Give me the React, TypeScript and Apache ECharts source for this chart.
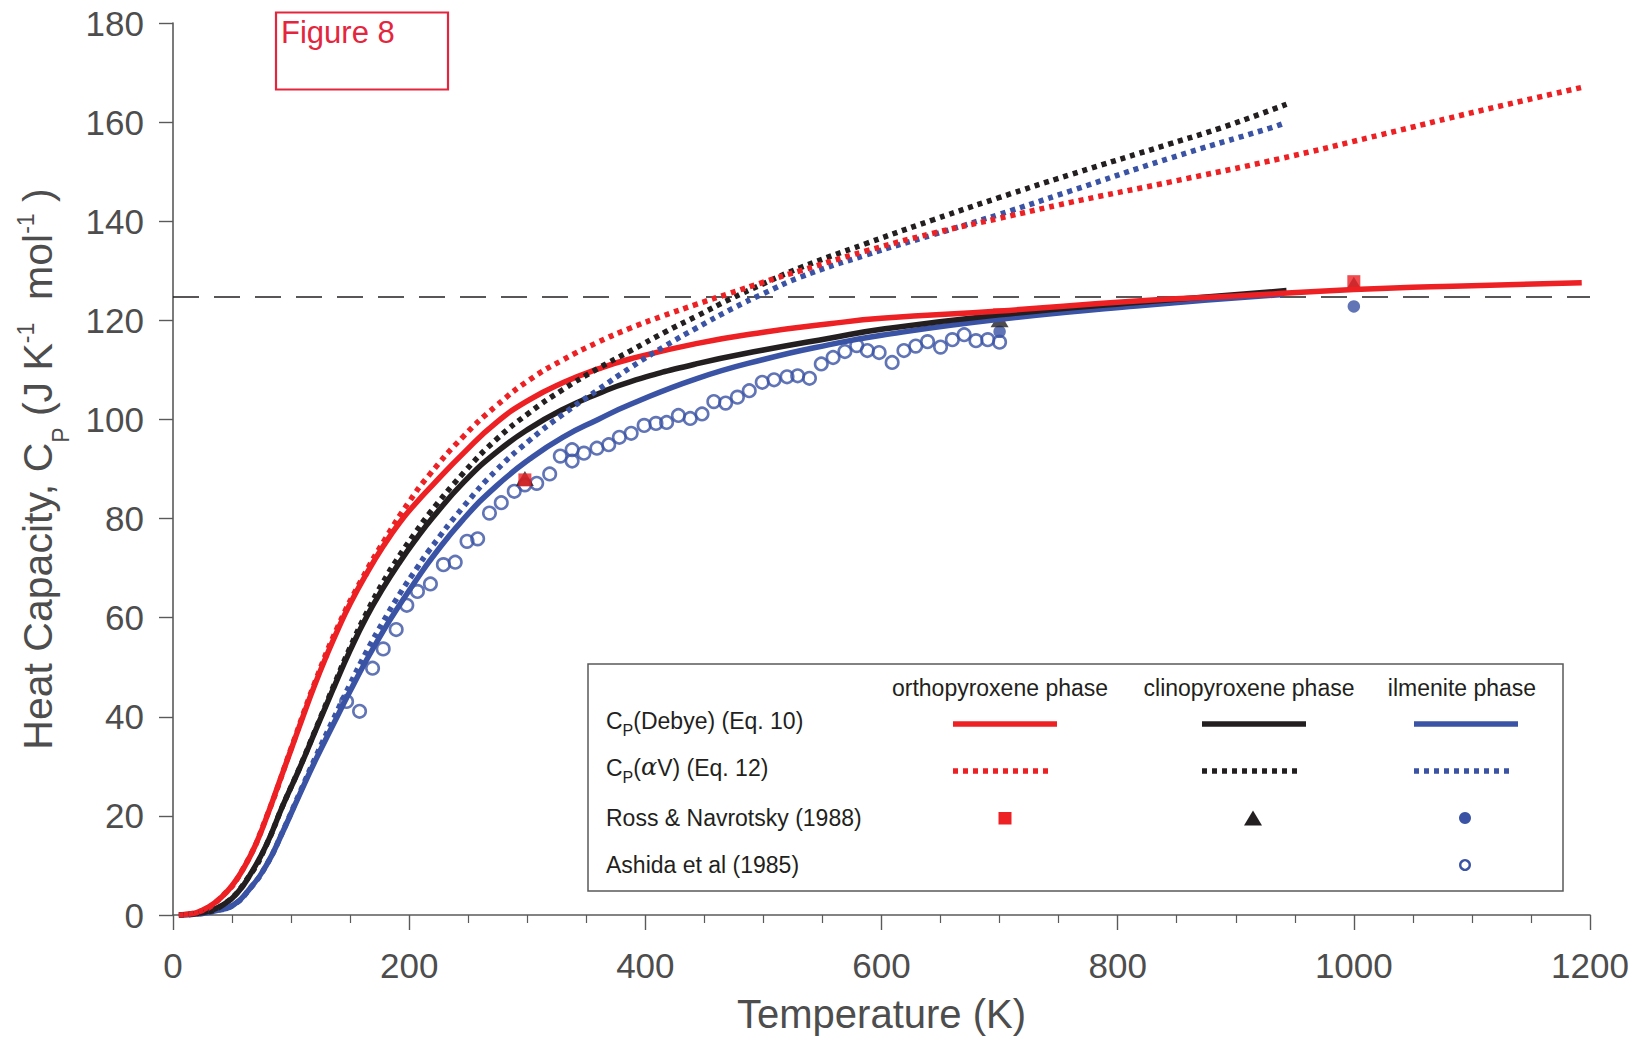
import React, { useEffect, useRef } from 'react';
import * as echarts from 'echarts';

const FONT = '"Liberation Sans", Arial, Helvetica, sans-serif';
const RED = '#ED2024';
const BLACK = '#231F20';
const BLUE = '#3A53A4';
const AXIS_GRAY = '#5A5A5A';
const TEXT_GRAY = '#4D4D4D';
const FIG_RED = '#E3263D';

// Temperature (K) and heat capacity (J K-1 mol-1) along each model curve
const T_OPX_DEBYE = [5, 10, 20, 30, 40, 50, 60, 70, 80, 90, 100, 110, 120, 130, 140, 150, 164, 178, 192, 206, 220, 246, 274, 302, 330, 360, 387, 443, 500, 556, 600, 700, 816, 900, 1000, 1100, 1193];
const CP_OPX_DEBYE = [0, 0.1, 0.5, 1.6, 3.4, 5.9, 9.5, 14.2, 20.2, 26.8, 33.4, 40.0, 46.4, 52.3, 57.8, 62.8, 68.9, 74.4, 79.2, 83.2, 86.8, 93.2, 99.4, 104.0, 107.4, 110.2, 112.2, 115.3, 117.6, 119.3, 120.4, 121.9, 123.9, 124.9, 126.2, 127.0, 127.6];

const T_CPX_DEBYE = [5, 20, 30, 42, 55, 65, 79, 93, 107, 121, 136, 150, 164, 178, 192, 206, 220, 246, 274, 302, 330, 360, 387, 443, 500, 556, 600, 700, 816, 943];
const CP_CPX_DEBYE = [0, 0.3, 0.8, 2.0, 4.6, 8.0, 14.1, 22.1, 29.5, 37.4, 45.8, 53.4, 60.2, 66.0, 71.2, 75.9, 80.2, 87.3, 93.4, 98.2, 102.0, 105.2, 107.6, 111.2, 114.0, 116.4, 118.2, 121.1, 123.6, 126.0];

const T_ILM_DEBYE = [5, 20, 35, 51, 65, 79, 93, 107, 121, 136, 150, 164, 178, 192, 206, 220, 246, 274, 302, 330, 360, 387, 443, 500, 556, 600, 700, 816, 940];
const CP_ILM_DEBYE = [0, 0.2, 0.8, 2.0, 5.3, 10.0, 16.8, 24.2, 31.4, 38.6, 45.2, 51.5, 57.3, 62.6, 67.6, 72.3, 79.9, 86.6, 92.0, 96.4, 100.0, 103.0, 108.2, 112.1, 115.1, 117.0, 120.2, 122.9, 125.2];

const T_OPX_AV = [5, 20, 40, 60, 80, 100, 120, 140, 160, 180, 200, 217, 246, 274, 302, 330, 360, 387, 415, 443, 472, 500, 531, 587, 644, 700, 760, 844, 937, 1022, 1107, 1193];
const CP_OPX_AV = [0, 0.5, 3.4, 9.6, 20.3, 33.6, 46.8, 58.4, 67.8, 76.0, 83.4, 88.8, 96.6, 102.8, 108.0, 112.0, 115.6, 118.4, 120.9, 123.2, 125.5, 127.7, 130.0, 134.0, 137.6, 140.6, 143.8, 147.9, 152.6, 157.4, 162.3, 167.0];

const T_CPX_AV = [5, 20, 42, 65, 79, 93, 107, 121, 136, 150, 164, 178, 192, 206, 217, 246, 274, 302, 330, 360, 387, 418, 443, 472, 500, 531, 587, 644, 700, 760, 844, 887, 943];
const CP_CPX_AV = [0, 0.3, 2.0, 8.0, 14.1, 22.1, 29.6, 37.6, 46.2, 54.0, 61.0, 67.2, 72.6, 77.4, 81.0, 89.2, 96.0, 101.4, 106.0, 110.3, 113.8, 117.8, 120.8, 124.3, 127.4, 130.6, 135.5, 140.3, 144.8, 149.4, 155.6, 158.8, 163.6];

const T_ILM_AV = [5, 20, 35, 51, 65, 79, 93, 107, 121, 136, 150, 164, 178, 192, 206, 217, 246, 274, 302, 330, 360, 387, 418, 443, 474, 500, 531, 587, 644, 700, 760, 844, 929, 939];
const CP_ILM_AV = [0, 0.2, 0.8, 2.0, 5.3, 10.0, 16.9, 24.5, 32.0, 39.6, 46.6, 53.2, 59.2, 64.8, 69.8, 73.6, 82.4, 89.8, 95.8, 101.0, 106.0, 110.4, 115.0, 118.4, 122.4, 125.4, 128.7, 133.2, 137.3, 141.4, 146.1, 152.7, 158.8, 159.6];

// Measurements
const T_ASHIDA = [147, 158, 169, 178, 189, 198, 207, 218, 229, 239, 249, 258, 268, 278, 289, 298, 308, 319, 328, 338, 338, 348, 359, 369, 378, 388, 399, 409, 418, 428, 438, 448, 458, 468, 478, 488, 499, 509, 520, 529, 539, 549, 559, 569, 579, 588, 598, 609, 619, 629, 639, 650, 660, 670, 680, 690, 700];
const CP_ASHIDA = [43.1, 41.1, 49.8, 53.7, 57.6, 62.5, 65.3, 66.8, 70.7, 71.2, 75.4, 75.9, 81.1, 83.2, 85.5, 86.8, 87.1, 89.0, 92.6, 93.9, 91.6, 93.2, 94.2, 94.9, 96.4, 97.2, 98.8, 99.2, 99.4, 100.8, 100.2, 101.1, 103.6, 103.3, 104.5, 105.8, 107.5, 108.0, 108.6, 108.8, 108.3, 111.2, 112.5, 113.7, 114.9, 113.9, 113.5, 111.5, 113.9, 114.8, 115.7, 114.6, 116.1, 117.1, 115.9, 116.1, 115.6];

const T_ROSS_OPX = [298, 700, 1000];
const CP_ROSS_OPX = [87.8, 121.1, 127.8];
const T_ROSS_CPX = [298, 700, 1000];
const CP_ROSS_CPX = [88.1, 120.1, 127.3];
const T_ROSS_ILM = [700, 1000];
const CP_ROSS_ILM = [117.7, 122.8];

// Dulong-Petit limit 3nR
const CP_LIMIT = 124.7;
const T_RANGE = [0, 1200];

const X_TICKS = { min: 0, max: 1200, interval: 200 };
const Y_TICKS = { min: 0, max: 180, interval: 20 };

const zip = (t: number[], c: number[]) => t.map((v, i) => [v, c[i]]);

const curve = (name: string, t: number[], c: number[], color: string, dotted: boolean) => ({
  name,
  type: 'line',
  data: zip(t, c),
  smooth: 0.5,
  showSymbol: false,
  symbol: 'none',
  silent: true,
  lineStyle: {
    color,
    width: 5.5,
    type: dotted ? [5, 5] : 'solid',
    cap: 'butt',
  },
});

const scatter = (name: string, t: number[], c: number[], symbol: string, size: any, itemStyle: any) => ({
  name,
  type: 'scatter',
  data: zip(t, c),
  symbol,
  symbolSize: size,
  itemStyle,
  silent: true,
});

const legendText = (x: number, y: number, text: string, align = 'left') => ({
  type: 'text',
  x,
  y,
  style: {
    text,
    fill: BLACK,
    font: `23px ${FONT}`,
    align,
    verticalAlign: 'middle',
  },
});

const legendRich = (x: number, y: number, text: string) => ({
  type: 'text',
  x,
  y,
  style: {
    text,
    align: 'left',
    verticalAlign: 'middle',
    rich: {
      n: { fontSize: 23, fontFamily: FONT, fill: BLACK, lineHeight: 26, padding: [0, 0, 6, 0], verticalAlign: 'bottom' },
      s: { fontSize: 16, fontFamily: FONT, fill: BLACK, lineHeight: 17, verticalAlign: 'bottom' },
      a: { fontSize: 24, fontFamily: '"DejaVu Serif", serif', fontStyle: 'italic', fill: BLACK, lineHeight: 26, padding: [0, 0, 6, 0], verticalAlign: 'bottom' },
    },
  },
});

const legendLine = (x1: number, x2: number, y: number, color: string, dotted: boolean) => ({
  type: 'line',
  shape: { x1, y1: y, x2, y2: y },
  style: { stroke: color, lineWidth: 5.5, lineDash: dotted ? [5, 5] : null, lineCap: 'butt' },
});

const option = {
  animation: false,
  backgroundColor: '#fff',
  grid: { left: 173, right: 42, top: 23, bottom: 122, containLabel: false },
  xAxis: {
    type: 'value',
    ...X_TICKS,
    name: 'Temperature (K)',
    nameLocation: 'middle',
    nameGap: 79,
    nameTextStyle: { fontSize: 40, color: TEXT_GRAY, fontFamily: FONT },
    axisLine: { show: true, lineStyle: { color: AXIS_GRAY, width: 1.6 } },
    axisTick: { show: true, length: 15, lineStyle: { color: AXIS_GRAY, width: 1.4 } },
    minorTick: { show: true, splitNumber: 4, length: 8, lineStyle: { color: AXIS_GRAY, width: 1.2 } },
    axisLabel: { fontSize: 35, color: TEXT_GRAY, fontFamily: FONT, margin: 33, formatter: (v: number) => String(v) },
    splitLine: { show: false },
  },
  yAxis: {
    type: 'value',
    ...Y_TICKS,
    axisLine: { show: true, lineStyle: { color: AXIS_GRAY, width: 1.6 } },
    axisTick: { show: true, length: 14, lineStyle: { color: AXIS_GRAY, width: 1.4 } },
    axisLabel: { fontSize: 35, color: TEXT_GRAY, fontFamily: FONT, margin: 29, formatter: (v: number) => String(v) },
    splitLine: { show: false },
  },
  series: [
    {
      name: '3nR',
      type: 'line',
      data: T_RANGE.map((t) => [t, CP_LIMIT]),
      symbol: 'none',
      silent: true,
      lineStyle: { color: BLACK, width: 1.6, type: [26, 15] },
    },
    curve('ilmenite Debye', T_ILM_DEBYE, CP_ILM_DEBYE, BLUE, false),
    curve('clinopyroxene Debye', T_CPX_DEBYE, CP_CPX_DEBYE, BLACK, false),
    curve('orthopyroxene Debye', T_OPX_DEBYE, CP_OPX_DEBYE, RED, false),
    curve('ilmenite aV', T_ILM_AV, CP_ILM_AV, BLUE, true),
    curve('clinopyroxene aV', T_CPX_AV, CP_CPX_AV, BLACK, true),
    curve('orthopyroxene aV', T_OPX_AV, CP_OPX_AV, RED, true),
    scatter('Ashida et al (1985)', T_ASHIDA, CP_ASHIDA, 'circle', 12.5, { color: 'transparent', borderColor: BLUE, borderWidth: 2.6 }),
    scatter('Ross ilmenite', T_ROSS_ILM, CP_ROSS_ILM, 'circle', 12.5, { color: BLUE }),
    scatter('Ross clinopyroxene', T_ROSS_CPX, CP_ROSS_CPX, 'triangle', [18, 15], { color: BLACK }),
    scatter('Ross orthopyroxene', T_ROSS_OPX, CP_ROSS_OPX, 'rect', 13, { color: RED }),
  ],
  graphic: [
    // y-axis title with sub/superscripts
    {
      type: 'text',
      x: 50,
      y: 469,
      rotation: Math.PI / 2,
      style: {
        text: '{n|Heat Capacity, C}{s|P}{n| (J K}{u|-1}{n|  mol}{u|-1}{n| )}',
        align: 'center',
        verticalAlign: 'middle',
        rich: {
          n: { fontSize: 41, fontFamily: FONT, fill: TEXT_GRAY, lineHeight: 45, padding: [0, 0, 14, 0], verticalAlign: 'bottom' },
          s: { fontSize: 23, fontFamily: FONT, fill: TEXT_GRAY, lineHeight: 24, verticalAlign: 'bottom' },
          u: { fontSize: 23, fontFamily: FONT, fill: TEXT_GRAY, lineHeight: 24, padding: [0, 0, 35, 0], verticalAlign: 'bottom' },
        },
      },
    },
    // figure tag
    {
      type: 'rect',
      shape: { x: 276, y: 12.5, width: 172, height: 77 },
      style: { fill: 'none', stroke: FIG_RED, lineWidth: 2.2 },
    },
    {
      type: 'text',
      x: 281,
      y: 32,
      style: { text: 'Figure 8', fill: FIG_RED, font: `31px ${FONT}`, align: 'left', verticalAlign: 'middle' },
    },
    // legend
    {
      type: 'group',
      children: [
        {
          type: 'rect',
          shape: { x: 588, y: 664, width: 975, height: 227 },
          style: { fill: '#fff', stroke: AXIS_GRAY, lineWidth: 1.5 },
        },
        legendText(1000, 688, 'orthopyroxene phase', 'center'),
        legendText(1249, 688, 'clinopyroxene phase', 'center'),
        legendText(1462, 688, 'ilmenite phase', 'center'),
        legendRich(606, 725, '{n|C}{s|P}{n|(Debye) (Eq. 10)}'),
        legendRich(606, 772, '{n|C}{s|P}{n|(}{a|α}{n|V) (Eq. 12)}'),
        legendText(606, 818, 'Ross & Navrotsky (1988)'),
        legendText(606, 865, 'Ashida et al (1985)'),
        legendLine(953, 1057, 724, RED, false),
        legendLine(1202, 1306, 724, BLACK, false),
        legendLine(1414, 1518, 724, BLUE, false),
        legendLine(953, 1053, 771, RED, true),
        legendLine(1202, 1302, 771, BLACK, true),
        legendLine(1414, 1514, 771, BLUE, true),
        {
          type: 'rect',
          shape: { x: 998.5, y: 812, width: 13, height: 12.5 },
          style: { fill: RED },
        },
        {
          type: 'polygon',
          shape: { points: [[1253, 810.5], [1244, 825.5], [1262, 825.5]] },
          style: { fill: BLACK },
        },
        {
          type: 'circle',
          shape: { cx: 1465, cy: 818, r: 6 },
          style: { fill: BLUE },
        },
        {
          type: 'circle',
          shape: { cx: 1465, cy: 865, r: 4.8 },
          style: { fill: 'none', stroke: BLUE, lineWidth: 2.4 },
        },
      ],
    },
  ],
};

export default function App() {
  const ref = useRef<HTMLDivElement>(null);
  useEffect(() => {
    if (!ref.current) return;
    const chart = echarts.init(ref.current, null, { renderer: 'svg' });
    chart.setOption(option as any);
    return () => chart.dispose();
  }, []);
  return (
    <div
      ref={ref}
      style={{ position: 'absolute', left: 0, top: 0, width: 1632, height: 1039, background: '#fff' }}
    />
  );
}
